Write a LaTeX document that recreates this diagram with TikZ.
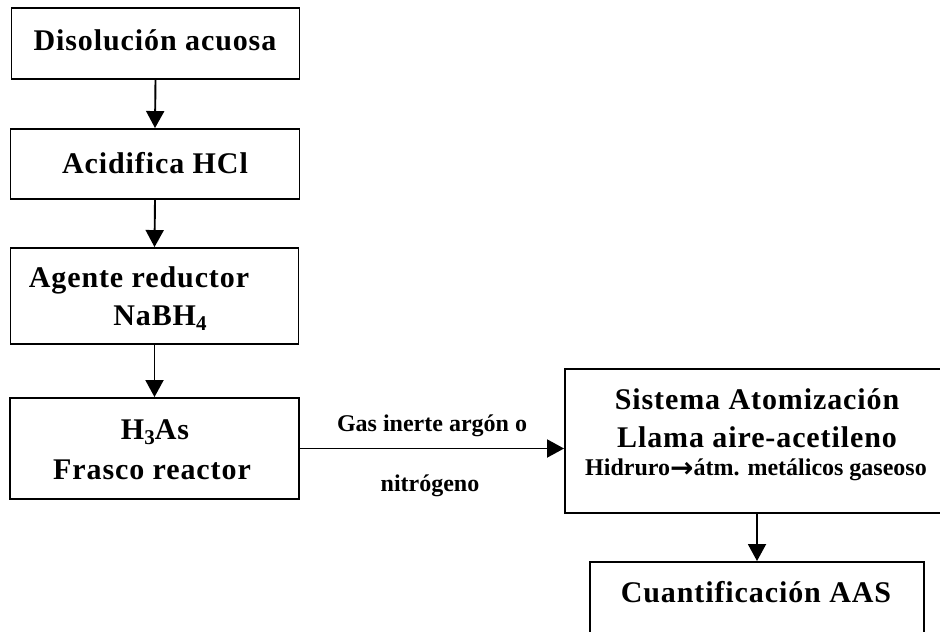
\documentclass[tikz,border=0pt]{standalone}
\usepackage{fontspec}
\setmainfont{Liberation Serif}
\newfontfamily\spacedf[LetterSpace=3]{Liberation Serif}
\newfontfamily\arrowf{DejaVu Sans}
\usetikzlibrary{arrows.meta}
\newcommand{\lowidx}[1]{\raisebox{-0.35ex}{\fontsize{21}{21}\selectfont #1}}
\begin{document}
\begin{tikzpicture}[x=1pt,y=-1pt,
  box/.style={draw, line width=1.9pt, inner sep=0pt},
  txt/.style={font=\spacedf\fontsize{30}{32}\selectfont\bfseries, inner sep=0pt},
  small/.style={font=\fontsize{24}{26}\selectfont\bfseries, inner sep=0pt},
  flow/.style={line width=1.9pt, -{Triangle[length=17pt,width=18pt]}}]
\useasboundingbox (0,0) rectangle (940,632);
\clip (0,0) rectangle (940,632);
% boxes
\node[box, minimum width=288pt, minimum height=71pt] (b1) at (155.5,43.5) {};
\node[box, minimum width=289pt, minimum height=70pt] (b2) at (155,164) {};
\node[box, minimum width=288pt, minimum height=96pt] (b3) at (154.5,296) {};
\node[box, minimum width=289pt, minimum height=101pt] (b4) at (154.5,448.5) {};
\node[box, minimum width=384pt, minimum height=144pt] (b5) at (757,441) {};
\node[box, minimum width=334pt, minimum height=100pt] (b6) at (757,612) {};
% texts
\node[txt] (t1) at (155,40) {Disolución acuosa};
\node[txt] (t2) at (155,163) {Acidifica HCl};
\node[txt] (t3a) at (139,280) {Agente reductor};
\node[txt] (t3b) at (160,318) {NaBH\lowidx{4}};
\node[txt] (t4a) at (155,432) {H\lowidx{3}As};
\node[txt] (t4b) at (152,470) {Frasco reactor};
\node[txt] (t5a) at (757,399) {Sistema Atomización};
\node[txt] (t5b) at (757,437) {Llama aire-acetileno};
\node[small] (t5c) at (756,470) {Hidruro{\arrowf\fontsize{28}{28}\selectfont\raisebox{-0.1ex}{→}}átm. metálicos gaseoso};
\node[txt] (t6) at (756,592) {Cuantificación AAS};
\node[small] (g1) at (432,426) {Gas inerte argón o};
\node[small] (g2) at (430,486) {nitrógeno};
% arrows
\draw[flow] (b1.south) -- (b2.north);
\draw[flow] (b2.south) -- (b3.north);
\draw[flow] (b3.south) -- (b4.north);
\draw[flow] (b4.east) -- (b4.east -| b5.west);
\draw[flow] (b5.south) -- (b6.north);
\end{tikzpicture}
\end{document}
